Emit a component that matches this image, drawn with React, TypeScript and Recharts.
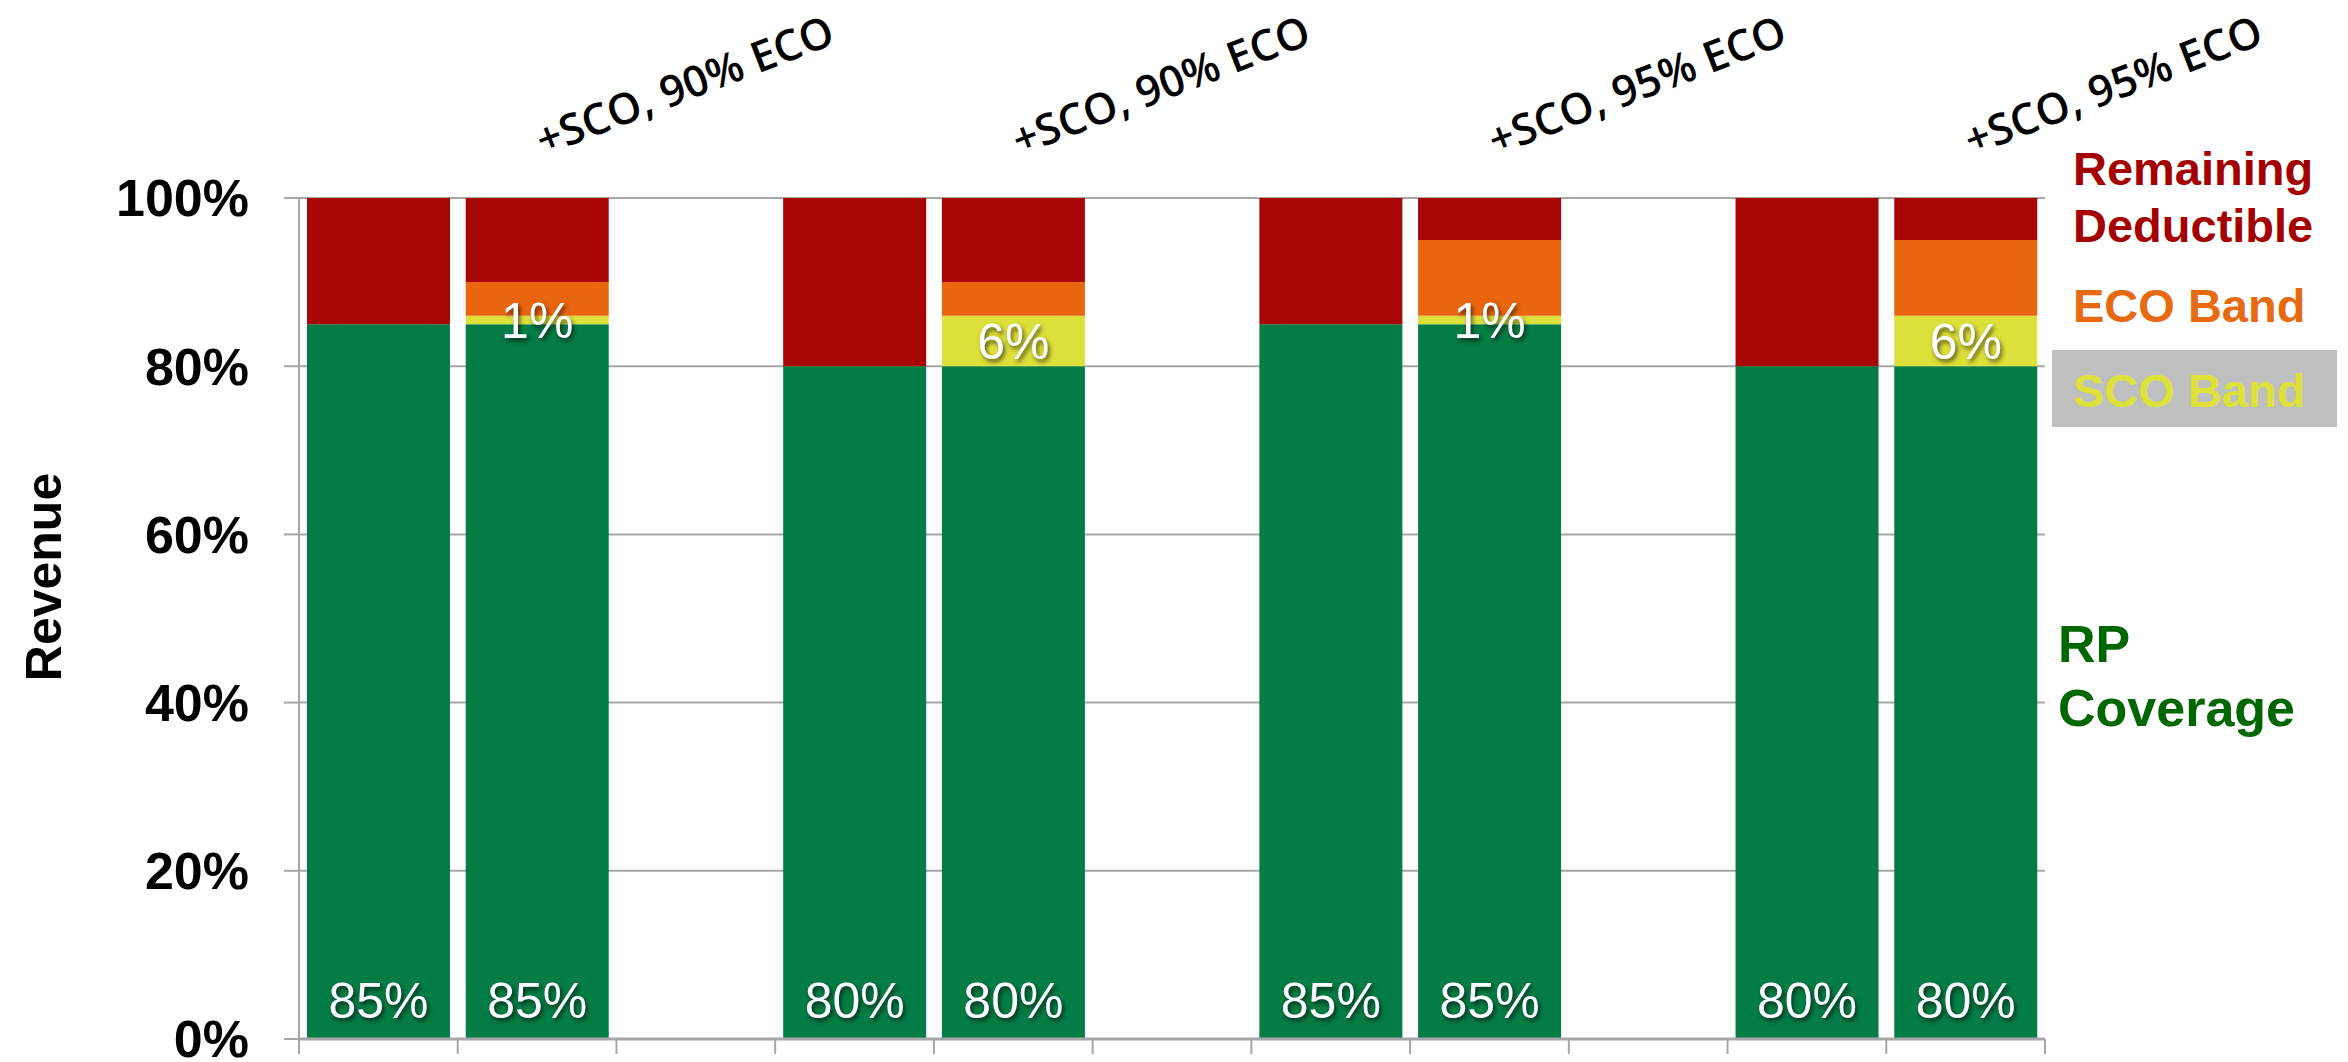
import React from 'react';
import { BarChart, Bar, XAxis, YAxis, CartesianGrid, LabelList } from 'recharts';

// Columns: four scenario pairs (base RP policy, then RP + SCO/ECO), separated by empty spacer columns
const categories = [
  'RP 85%', 'RP 85% + SCO, ECO 90%', 'gap 1',
  'RP 80%', 'RP 80% + SCO, ECO 90%', 'gap 2',
  'RP 85% ', 'RP 85% + SCO, ECO 95%', 'gap 3',
  'RP 80% ', 'RP 80% + SCO, ECO 95%',
];
const rpCoverage = [85, 85, 0, 80, 80, 0, 85, 85, 0, 80, 80];
const scoBand = [0, 1, 0, 0, 6, 0, 0, 1, 0, 0, 6];
const ecoBand = [0, 4, 0, 0, 4, 0, 0, 9, 0, 0, 9];
const remainingDeductible = [15, 10, 0, 20, 10, 0, 15, 5, 0, 20, 5];
const scenarioLabels = [
  '', '+SCO, 90% ECO', '',
  '', '+SCO, 90% ECO', '',
  '', '+SCO, 95% ECO', '',
  '', '+SCO, 95% ECO',
];
const yTicks = [0, 20, 40, 60, 80, 100];

const rows = categories.map((name, i) => ({
  name,
  rp: rpCoverage[i],
  sco: scoBand[i],
  eco: ecoBand[i],
  remaining: remainingDeductible[i],
  scenario: scenarioLabels[i],
}));

const W = 2348;
const H = 1062;
const PLOT_LEFT = 299;
const PLOT_RIGHT = 2045;
const PLOT_TOP = 198;
const PLOT_BOTTOM = 1039;
const BAND = (PLOT_RIGHT - PLOT_LEFT) / categories.length;

const GREEN = '#037C46';
const YELLOW = '#DCE03A';
const ORANGE = '#E9660F';
const RED = '#A80505';
const AXIS_GRAY = '#A6A6A6';
const ARIAL = "'Liberation Sans', Arial, sans-serif";

const whiteShadow: React.CSSProperties = {
  filter: 'drop-shadow(2px 3px 2px rgba(0,0,0,0.6))',
};

const boxOf = (p: any) => {
  const vb = p.viewBox && p.viewBox.width !== undefined ? p.viewBox : p;
  return {
    x: Number(vb.x),
    y: Number(vb.y),
    width: Number(vb.width),
    height: Number(vb.height),
  };
};

// value printed near the foot of the green segment
const FootLabel = (props: any) => {
  if (!props.value) return null;
  const b = boxOf(props);
  return (
    <text
      x={b.x + b.width / 2}
      y={b.y + b.height - 21}
      textAnchor="middle"
      fill="#fff"
      fontSize={50}
      fontFamily={ARIAL}
      style={whiteShadow}
    >
      {props.value}%
    </text>
  );
};

// value centred on the SCO segment
const MidLabel = (props: any) => {
  if (!props.value) return null;
  const b = boxOf(props);
  return (
    <text
      x={b.x + b.width / 2}
      y={b.y + b.height / 2}
      dy="0.36em"
      textAnchor="middle"
      fill="#fff"
      fontSize={50}
      fontFamily={ARIAL}
      style={whiteShadow}
    >
      {props.value}%
    </text>
  );
};

// slanted scenario caption above the top of the stack
const ScenarioLabel = (props: any) => {
  if (!props.value) return null;
  const b = boxOf(props);
  const x = b.x + b.width / 2 + 6;
  const y = b.y - 42;
  return (
    <text
      x={x}
      y={y}
      transform={`rotate(-21 ${x} ${y})`}
      fill="#000"
      fontSize={43}
      fontWeight={600}
      fontFamily="'Open Sans', 'DejaVu Sans', sans-serif"
    >
      {props.value}
    </text>
  );
};

// Excel-style ticks sit on the category boundaries, not the centres
const BoundaryTick = (props: any) => {
  const { x, index } = props;
  const left = x - BAND / 2;
  return (
    <g>
      <line x1={left} x2={left} y1={PLOT_BOTTOM} y2={PLOT_BOTTOM + 15} stroke={AXIS_GRAY} strokeWidth={2} />
      {index === categories.length - 1 && (
        <line x1={x + BAND / 2} x2={x + BAND / 2} y1={PLOT_BOTTOM} y2={PLOT_BOTTOM + 15} stroke={AXIS_GRAY} strokeWidth={2} />
      )}
    </g>
  );
};

const RevenueTitle = () => {
  const cy = 577;
  return (
    <text
      x={61}
      y={cy}
      transform={`rotate(-90 61 ${cy})`}
      textAnchor="middle"
      fontSize={50}
      fontWeight="bold"
      fontFamily={ARIAL}
      fill="#000"
    >
      Revenue
    </text>
  );
};

const SeriesNames = () => (
  <svg
    width={W}
    height={H}
    style={{ position: 'absolute', left: 0, top: 0, pointerEvents: 'none' }}
  >
    <g fontFamily={ARIAL} fontWeight="bold">
      <text x={2073} y={185} fontSize={47} fill="#A50000">Remaining</text>
      <text x={2073} y={242} fontSize={47} fill="#A50000">Deductible</text>
      <text x={2073} y={322} fontSize={47} fill="#E86A10">ECO Band</text>
      <rect x={2052} y={350} width={285} height={77} fill="#BFBFBF" />
      <text x={2073} y={407} fontSize={47} fill="#DCE23A">SCO Band</text>
      <text x={2058} y={662} fontSize={52} fill="#006600">RP</text>
      <text x={2058} y={726} fontSize={52} fill="#006600">Coverage</text>
    </g>
  </svg>
);

export default function App() {
  return (
    <div style={{ position: 'absolute', left: 0, top: 0, width: W, height: H, background: '#fff' }}>
      <BarChart
        width={W}
        height={H}
        data={rows}
        margin={{ top: PLOT_TOP, right: W - PLOT_RIGHT, bottom: 0, left: 0 }}
        barCategoryGap={8}
      >
        <CartesianGrid vertical={false} stroke={AXIS_GRAY} strokeWidth={2} />
        <XAxis
          dataKey="name"
          height={H - PLOT_BOTTOM}
          interval={0}
          axisLine={{ stroke: AXIS_GRAY, strokeWidth: 3 }}
          tickLine={false}
          tickSize={0}
          tickMargin={0}
          tick={<BoundaryTick />}
        />
        <YAxis
          width={PLOT_LEFT}
          domain={[0, 100]}
          ticks={yTicks}
          interval={0}
          tickFormatter={(v: number) => `${v}%`}
          tickSize={15}
          tickMargin={35}
          axisLine={{ stroke: AXIS_GRAY, strokeWidth: 2 }}
          tickLine={{ stroke: AXIS_GRAY, strokeWidth: 2 }}
          tick={{ fontSize: 52, fontWeight: 'bold', fill: '#000', fontFamily: ARIAL }}
          label={<RevenueTitle />}
        />
        <Bar dataKey="rp" stackId="s" fill={GREEN} isAnimationActive={false}>
          <LabelList dataKey="rp" content={FootLabel} />
        </Bar>
        <Bar dataKey="sco" stackId="s" fill={YELLOW} isAnimationActive={false}>
          <LabelList dataKey="sco" content={MidLabel} />
        </Bar>
        <Bar dataKey="eco" stackId="s" fill={ORANGE} isAnimationActive={false} />
        <Bar dataKey="remaining" stackId="s" fill={RED} isAnimationActive={false}>
          <LabelList dataKey="scenario" content={ScenarioLabel} />
        </Bar>
      </BarChart>
      <SeriesNames />
    </div>
  );
}
